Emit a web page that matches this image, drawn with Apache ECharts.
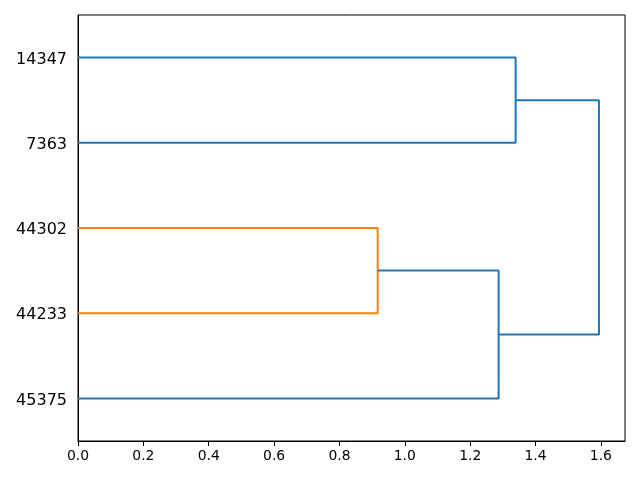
<!DOCTYPE html>
<html>
<head>
<meta charset="utf-8">
<script src="https://cdn.jsdelivr.net/npm/echarts@6/dist/echarts.min.js"></script>
<style>html,body{margin:0;padding:0;background:#fff;}#c{width:640px;height:480px;}</style>
</head>
<body>
<div id="c"></div>
<script>
// Leaves, bottom to top
const leafLabels = ['45375', '44233', '44302', '7363', '14347'];
// Merges (scipy-style): node ids 0..4 are leaves, 5.. are merged clusters
const mergeLeft = [1, 0, 3, 6];
const mergeRight = [2, 5, 4, 7];
const mergeHeights = [0.917, 1.287, 1.339, 1.594];
const linkColors = ['#ff7f0e', '#1f77b4', '#1f77b4', '#1f77b4'];
const xTicks = [0, 0.2, 0.4, 0.6, 0.8, 1.0, 1.2, 1.4, 1.6];

const n = leafLabels.length;
const pos = [], height = [];
for (let i = 0; i < n; i++) { pos.push(5 + 10 * i); height.push(0); }
const series = [];
for (let k = 0; k < mergeHeights.length; k++) {
  const a = mergeLeft[k], b = mergeRight[k], h = mergeHeights[k];
  series.push({
    type: 'line',
    xAxisIndex: 0, yAxisIndex: 0,
    data: [[height[a], pos[a]], [h, pos[a]], [h, pos[b]], [height[b], pos[b]]],
    symbol: 'none',
    lineStyle: { color: linkColors[k], width: 2 },
    silent: true,
    animation: false
  });
  pos.push((pos[a] + pos[b]) / 2);
  height.push(h);
}
const xMax = Math.max(...mergeHeights) * 1.05;

const chart = echarts.init(document.getElementById('c'), null, { renderer: 'canvas' });
chart.setOption({
  animation: false,
  backgroundColor: '#fff',
  grid: { left: 78, right: 15, top: 15, bottom: 39, show: true, borderColor: '#000', borderWidth: 1, backgroundColor: 'transparent' },
  xAxis: [{
    type: 'value', min: 0, max: xMax, interval: 0.2,
    axisLine: { show: true, lineStyle: { color: '#000', width: 1 } },
    axisTick: { show: true, length: 5, lineStyle: { color: '#000' }, customValues: xTicks },
    axisLabel: { color: '#000', fontSize: 13.9, fontFamily: 'DejaVu Sans', margin: 8, customValues: xTicks,
      formatter: v => v.toFixed(1) },
    splitLine: { show: false }
  }],
  yAxis: [{
    type: 'value', min: 0, max: 50, show: false, splitLine: { show: false }
  }, {
    type: 'category', data: leafLabels, position: 'left', boundaryGap: true,
    axisLine: { show: true, lineStyle: { color: '#000', width: 1 } },
    axisTick: { show: false },
    axisLabel: { color: '#000', fontSize: 16, fontFamily: 'DejaVu Sans', margin: 11,
      formatter: v => '{a|' + v + '}',
      rich: { a: { color: '#000', fontSize: 16, fontFamily: 'DejaVu Sans', padding: [4, 0, 0, 0] } } },
    splitLine: { show: false }
  }],
  series: series
});
</script>
</body>
</html>
